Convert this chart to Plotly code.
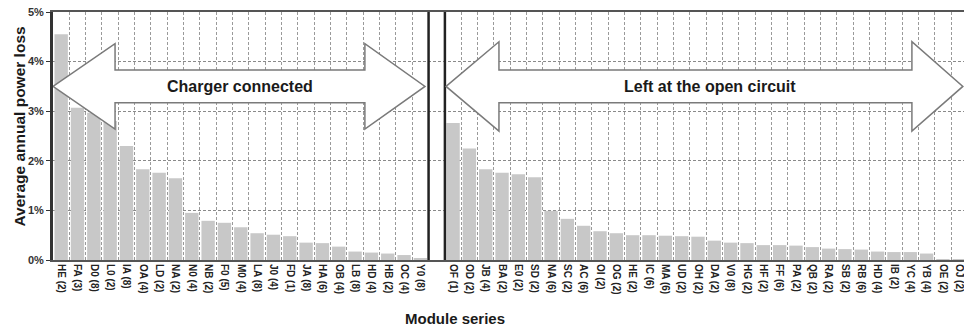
import plotly.graph_objects as go

# ---- data ----
categories_left = ["HE (2)", "FA (3)", "D0 (8)", "L0 (2)", "IA (8)", "OA (4)", "LD (2)", "NA (2)",
                   "N0 (4)", "NB (2)", "F0 (5)", "M0 (4)", "LA (8)", "J0 (4)", "FD (1)", "JA (8)",
                   "HA (6)", "OB (4)", "LB (8)", "HD (4)", "HB (2)", "OC (4)", "Y0 (8)"]
loss_left = [4.55, 3.07, 2.97, 2.80, 2.30, 1.83, 1.76, 1.65, 0.95, 0.79, 0.75, 0.66, 0.54, 0.51,
             0.48, 0.35, 0.34, 0.27, 0.17, 0.15, 0.13, 0.10, 0.03]

categories_right = ["OF (1)", "OD (2)", "JB (4)", "BA (2)", "E0 (2)", "SD (2)", "NA (6)", "SC (2)",
                    "AC (6)", "OI (2)", "OG (2)", "HE (2)", "IC (6)", "MA (6)", "UD (2)", "OH (2)",
                    "DA (2)", "V0 (8)", "HG (2)", "HF (2)", "FF (6)", "PA (2)", "QB (2)", "RA (2)",
                    "SB (2)", "RB (6)", "HD (4)", "IB (2)", "YC (4)", "YB (4)", "OE (2)", "OJ (2)"]
loss_right = [2.76, 2.25, 1.83, 1.76, 1.73, 1.67, 0.99, 0.83, 0.69, 0.58, 0.54, 0.50, 0.50, 0.49,
              0.48, 0.47, 0.39, 0.35, 0.34, 0.30, 0.30, 0.29, 0.26, 0.23, 0.22, 0.21, 0.17, 0.16,
              0.16, 0.13, 0.02, 0.01]

y_ticks = [0, 1, 2, 3, 4, 5]
y_tick_labels = ["0%", "1%", "2%", "3%", "4%", "5%"]

# ---- positions (one empty slot between the groups) ----
x_left = list(range(len(categories_left)))
gap = len(categories_left)
x_right = [gap + 1 + i for i in range(len(categories_right))]
n_slots = len(categories_left) + 1 + len(categories_right)

FONT = "Arial, Liberation Sans, sans-serif"
BAR = "#c8c8c8"

fig = go.Figure()
fig.add_trace(go.Bar(x=x_left, y=loss_left, marker=dict(color=BAR, line=dict(width=0)),
                     showlegend=False, hoverinfo="skip"))
fig.add_trace(go.Bar(x=x_right, y=loss_right, marker=dict(color=BAR, line=dict(width=0)),
                     showlegend=False, hoverinfo="skip"))

boundaries = [i + 0.5 for i in range(n_slots - 1)]

fig.update_layout(
    width=964, height=328,
    margin=dict(l=53, r=0, t=12, b=68),
    paper_bgcolor="white", plot_bgcolor="white",
    bargap=0.18,
    font=dict(family=FONT, color="#222"),
    xaxis=dict(
        range=[-0.5, 55.29],
        tickvals=x_left + x_right,
        ticktext=categories_left + categories_right,
        tickangle=90,
        tickfont=dict(size=10, family=FONT, color="#222", weight="bold"),
        ticklabeloverflow="allow",
        ticks="",
        showgrid=False,
        showline=True, linecolor="#555", linewidth=2, mirror=True,
        zeroline=False,
        minor=dict(tickvals=boundaries, showgrid=True, gridcolor="#9a9a9a",
                   griddash="3px,2px", gridwidth=1, ticks=""),
    ),
    yaxis=dict(
        range=[0, 5],
        tickvals=y_ticks,
        ticktext=y_tick_labels,
        tickfont=dict(size=11, family=FONT, color="#333", weight="bold"),
        ticks="outside", ticklen=4, tickcolor="#333", tickwidth=1,
        showgrid=True, gridcolor="#8a8a8a", griddash="3px,2px", gridwidth=1,
        showline=True, linecolor="#333", linewidth=3,
        zeroline=False,
    ),
)

# thick separators around the empty slot
for xb in (gap - 0.5, gap + 0.5):
    fig.add_shape(type="line", xref="x", yref="paper", x0=xb, x1=xb, y0=0, y1=1,
                  line=dict(color="#222", width=2.5), layer="above")


def arrow_path(x_tip_l, x_base_l, x_base_r, x_tip_r, yc, shaft_half, head_half):
    return (f"M {x_tip_l},{yc} L {x_base_l},{yc + head_half} L {x_base_l},{yc + shaft_half} "
            f"L {x_base_r},{yc + shaft_half} L {x_base_r},{yc + head_half} L {x_tip_r},{yc} "
            f"L {x_base_r},{yc - head_half} L {x_base_r},{yc - shaft_half} "
            f"L {x_base_l},{yc - shaft_half} L {x_base_l},{yc - head_half} Z")


fig.add_shape(type="path", xref="x", yref="y",
              path=arrow_path(-0.5, 3.3, 18.6, 22.28, 3.50, 0.33, 0.86),
              fillcolor="white", line=dict(color="#7a7a7a", width=1.5), layer="above")
fig.add_shape(type="path", xref="x", yref="y",
              path=arrow_path(23.57, 26.81, 52.1, 55.22, 3.50, 0.33, 0.90),
              fillcolor="white", line=dict(color="#7a7a7a", width=1.5), layer="above")

fig.add_annotation(x=10.95, y=3.50, xref="x", yref="y", text="<b>Charger connected</b>",
                   showarrow=False, font=dict(size=16, family=FONT, color="#1a1a1a"))
fig.add_annotation(x=39.75, y=3.50, xref="x", yref="y", text="<b>Left at the open circuit</b>",
                   showarrow=False, font=dict(size=16, family=FONT, color="#1a1a1a"))

fig.add_annotation(x=(455 - 53) / 911, y=(260 - 318) / 248, xref="paper", yref="paper",
                   text="<b>Module series</b>", showarrow=False,
                   xanchor="center", yanchor="middle",
                   font=dict(size=15, family=FONT, color="#1a1a1a"))
fig.add_annotation(x=(19 - 53) / 911, y=(260 - 126.5) / 248, xref="paper", yref="paper",
                   text="<b>Average annual power loss</b>", showarrow=False, textangle=-90,
                   xanchor="center", yanchor="middle",
                   font=dict(size=15.5, family=FONT, color="#1a1a1a"))

fig.write_html("out.html")
